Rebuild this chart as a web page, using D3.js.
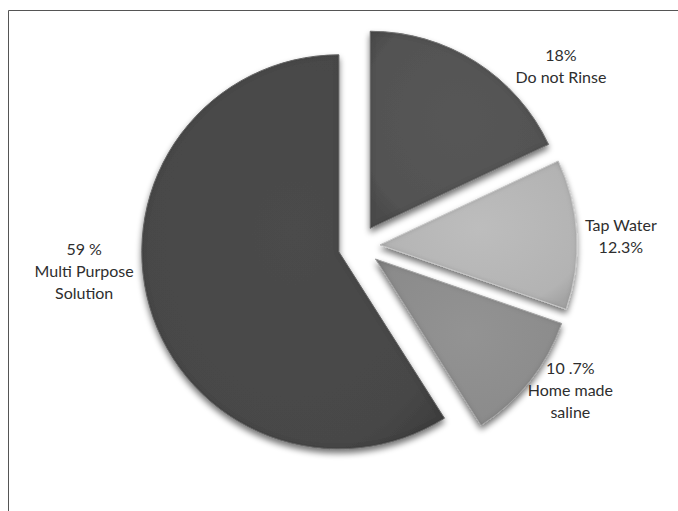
<!DOCTYPE html>
<meta charset="utf-8">
<head>
<style>
body { margin: 0; background: #fff; }
.label { font: 16px Lato, "Open Sans", sans-serif; fill: #2e2e2e; }
</style>
</head>
<body>
<script src="https://cdn.jsdelivr.net/npm/d3@7/dist/d3.min.js"></script>
<script>

// slice data, clockwise from 12 o'clock
var categories = ["Do not Rinse", "Tap Water", "Home made saline", "Multi Purpose Solution"];
var values = [18, 12.3, 10.7, 59];
var labelLines = [
    ["18%", "Do not Rinse"],
    ["Tap Water", "12.3%"],
    ["10 .7%", "Home made", "saline"],
    ["59 %", "Multi Purpose", "Solution"]
];

var W = 678, H = 511;
var cx = 359, cy = 246, radius = 197, explode = 21;
var fills = ["#525252", "#b3b3b3", "#8b8b8b", "#474747"];
var rims = ["#7a7a7a", "#d6d6d6", "#b0b0b0", "#6a6a6a"];
// label placement: angle shift from slice middle (deg) and distance from centre
var labelShift = [16, 1, -4, 11];
var labelDist = [270, 262, 256, 276];

var svg = d3.select("body").append("svg")
    .attr("width", W)
    .attr("height", H);

// frame lines (top + left)
svg.append("path")
    .attr("d", "M8.5," + H + "V10.5H" + W)
    .attr("fill", "none")
    .attr("stroke", "#555")
    .attr("stroke-width", 1);

var defs = svg.append("defs");

var f = defs.append("filter").attr("id", "bevel")
    .attr("x", "-20%").attr("y", "-20%").attr("width", "140%").attr("height", "140%");
f.append("feGaussianBlur").attr("in", "SourceAlpha").attr("stdDeviation", 3).attr("result", "b");
f.append("feOffset").attr("in", "b").attr("dx", 0).attr("dy", 4).attr("result", "ob");
f.append("feComponentTransfer").attr("in", "ob").attr("result", "shadow")
    .append("feFuncA").attr("type", "linear").attr("slope", 0.55);
// inner dark rim
f.append("feGaussianBlur").attr("in", "SourceAlpha").attr("stdDeviation", 2.5).attr("result", "ib");
f.append("feComposite").attr("in", "SourceAlpha").attr("in2", "ib").attr("operator", "out").attr("result", "rim");
f.append("feFlood").attr("flood-color", "#000").attr("flood-opacity", 0.35).attr("result", "dark");
f.append("feComposite").attr("in", "dark").attr("in2", "rim").attr("operator", "in").attr("result", "rimDark");
var m = f.append("feMerge");
m.append("feMergeNode").attr("in", "shadow");
m.append("feMergeNode").attr("in", "SourceGraphic");
m.append("feMergeNode").attr("in", "rimDark");

fills.forEach(function(c, i) {
    var g = defs.append("radialGradient").attr("id", "grad" + i)
        .attr("cx", "50%").attr("cy", "45%").attr("r", "65%");
    g.append("stop").attr("offset", "0%").attr("stop-color", d3.color(c).brighter(0.15));
    g.append("stop").attr("offset", "85%").attr("stop-color", c);
    g.append("stop").attr("offset", "100%").attr("stop-color", d3.color(c).darker(0.25));
});

var pie = d3.pie().sort(null).value(function(d) { return d; });
var arcs = pie(values);

var arc = d3.arc().innerRadius(0).outerRadius(radius);

var root = svg.append("g")
    .attr("transform", "translate(" + cx + "," + cy + ")");

function dir(a) { return [Math.sin(a), -Math.cos(a)]; }

root.selectAll(".slice")
    .data(arcs)
    .enter()
    .append("path")
    .attr("class", "slice")
    .attr("d", arc)
    .attr("transform", function(d) {
        var v = dir((d.startAngle + d.endAngle) / 2);
        return "translate(" + (v[0] * explode) + "," + (v[1] * explode) + ")";
    })
    .attr("fill", function(d, i) { return "url(#grad" + i + ")"; })
    .attr("stroke", function(d, i) { return rims[i]; })
    .attr("stroke-width", 1)
    .attr("filter", "url(#bevel)");

var lineH = 22;
var labels = root.selectAll(".label")
    .data(arcs)
    .enter()
    .append("text")
    .attr("class", "label")
    .attr("text-anchor", "middle")
    .attr("transform", function(d, i) {
        var a = (d.startAngle + d.endAngle) / 2 + labelShift[i] * Math.PI / 180;
        var v = dir(a);
        return "translate(" + (v[0] * labelDist[i]) + "," + (v[1] * labelDist[i]) + ")";
    });

labels.each(function(d, i) {
    var lines = labelLines[i];
    var t = d3.select(this);
    lines.forEach(function(s, k) {
        t.append("tspan")
            .attr("x", 0)
            .attr("y", (k - (lines.length - 1) / 2) * lineH)
            .attr("dy", "0.35em")
            .text(s);
    });
});

</script>
</body>
